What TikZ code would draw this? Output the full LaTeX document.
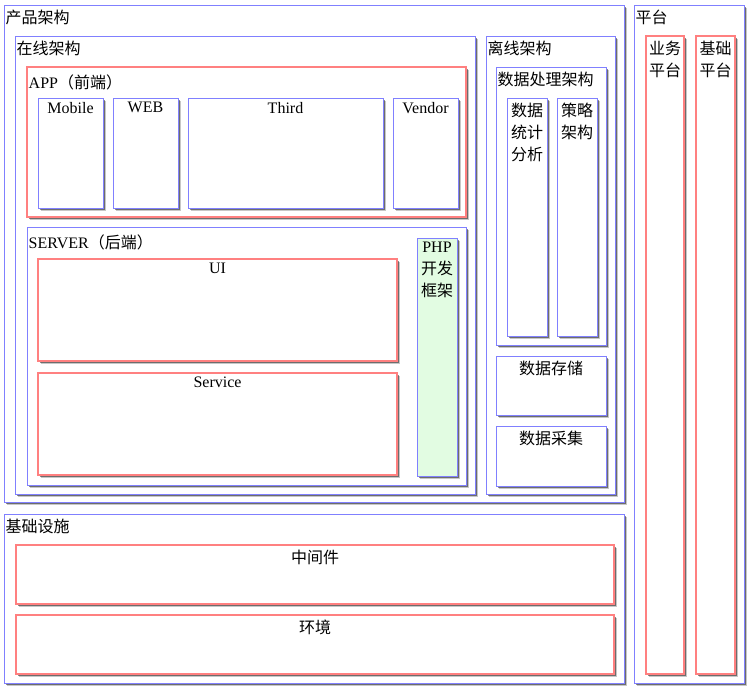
\documentclass[tikz,border=0pt]{standalone}
\usepackage{fontspec}
\setmainfont{Liberation Serif}
\newfontfamily\cjk{Noto Sans CJK SC}
\usetikzlibrary{fit,shadows}

\definecolor{edgeblue}{RGB}{128,128,255}
\definecolor{edgered}{RGB}{255,128,128}
\definecolor{phpgreen}{RGB}{226,252,226}

\tikzset{
  x=1pt, y=-1pt,
  panel/.style={rectangle, inner sep=0pt, outer sep=0pt, fill=white,
    drop shadow={shadow xshift=2.6pt, shadow yshift=-2.6pt, opacity=.22, fill=black},
    drop shadow={shadow xshift=1.6pt, shadow yshift=-1.6pt, opacity=.45, fill=black}},
  bluebox/.style={panel, draw=edgeblue, line width=1pt},
  redbox/.style={panel, draw=edgered, line width=2pt},
  greenbox/.style={bluebox, fill=phpgreen},
  txt/.style={inner sep=0pt, font=\fontsize{16pt}{22pt}\selectfont, align=center},
  title/.style={txt, anchor=north west, xshift=1.5pt, yshift=-5pt},
  head/.style={txt, anchor=north, yshift=-5pt},
}

\begin{document}
\begin{tikzpicture}
\useasboundingbox (0,0) rectangle (749,691);

% product architecture
\node[bluebox, fit={(4,5)(624,502)}] (prod) {};
\node[title] (prodt) at (prod.north west) {\cjk 产品架构};

% online part
\node[bluebox, fit={(15,36)(475,494)}] (online) {};
\node[title] (onlinet) at (online.north west) {\cjk 在线架构};

\node[redbox, fit={(27,67)(466,217)}] (app) {};
\node[title, yshift=-2.5pt] (appt) at (app.north west) {APP{\cjk （前端）}};

\node[bluebox, fit={(38,98)(103,208)}] (mobile) {};
\node[head, yshift=1pt] (mobilet) at (mobile.north) {Mobile};
\node[bluebox, fit={(113,98)(178,208)}] (web) {};
\node[head, yshift=1pt] (webt) at (web.north) {WEB};
\node[bluebox, fit={(188,98)(383,208)}] (third) {};
\node[head, yshift=1pt] (thirdt) at (third.north) {Third};
\node[bluebox, fit={(393,98)(458,208)}] (vendor) {};
\node[head, yshift=1pt] (vendort) at (vendor.north) {Vendor};

\node[bluebox, fit={(27,227)(466,485)}] (server) {};
\node[title, yshift=-2.5pt] (servert) at (server.north west) {SERVER{\cjk （后端）}};

\node[redbox, fit={(38,259)(397,361)}] (ui) {};
\node[head, yshift=1pt] (uit) at (ui.north) {UI};
\node[redbox, fit={(38,373)(397,475)}] (service) {};
\node[head, yshift=1pt] (servicet) at (service.north) {Service};

\node[greenbox, fit={(417,238)(457,476)}] (php) {};
\node[head, yshift=1pt] (phpt) at (php.north) {PHP\\{\cjk 开发}\\{\cjk 框架}};

% offline part
\node[bluebox, fit={(486,36)(615,494)}] (offline) {};
\node[title] (offlinet) at (offline.north west) {\cjk 离线架构};

\node[bluebox, fit={(496,67)(606,345)}] (proc) {};
\node[title] (proct) at (proc.north west) {\cjk 数据处理架构};

\node[bluebox, fit={(507,98)(547,336)}] (stat) {};
\node[head] (statt) at (stat.north) {\cjk 数据\\\cjk 统计\\\cjk 分析};
\node[bluebox, fit={(557,98)(597,336)}] (strat) {};
\node[head] (stratt) at (strat.north) {\cjk 策略\\\cjk 架构};

\node[bluebox, fit={(496,356)(606,415)}] (store) {};
\node[head] (storet) at (store.north) {\cjk 数据存储};
\node[bluebox, fit={(496,426)(606,486)}] (collect) {};
\node[head] (collectt) at (collect.north) {\cjk 数据采集};

% infrastructure
\node[bluebox, fit={(4,514)(624,683)}] (infra) {};
\node[title] (infrat) at (infra.north west) {\cjk 基础设施};

\node[redbox, fit={(16,545)(614,604)}] (mid) {};
\node[head] (midt) at (mid.north) {\cjk 中间件};
\node[redbox, fit={(16,615)(614,674)}] (env) {};
\node[head] (envt) at (env.north) {\cjk 环境};

% platforms
\node[bluebox, fit={(634,5)(744,683)}] (plat) {};
\node[title] (platt) at (plat.north west) {\cjk 平台};

\node[redbox, fit={(646,36)(684,674)}] (biz) {};
\node[head] (bizt) at (biz.north) {\cjk 业务\\\cjk 平台};
\node[redbox, fit={(696,36)(735,674)}] (base) {};
\node[head] (baset) at (base.north) {\cjk 基础\\\cjk 平台};
\end{tikzpicture}
\end{document}
